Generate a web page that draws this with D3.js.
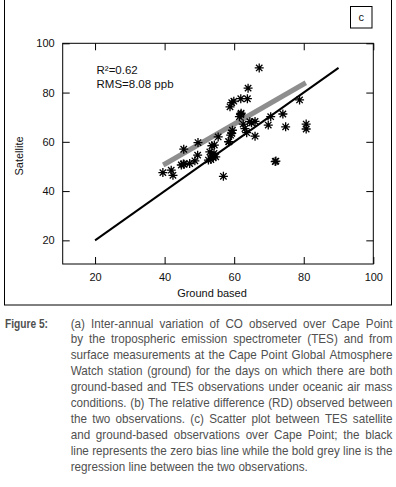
<!DOCTYPE html>
<html><head><meta charset="utf-8">
<script src="https://cdn.jsdelivr.net/npm/d3@7"></script>
<style>
html,body{margin:0;padding:0;background:#fff;}
svg{display:block;}
</style></head>
<body>
<svg id="c" width="396" height="487"></svg>
<script>
// ---- data ----
const groundBased = [39.5, 41.9, 42.4, 44.8, 45.4, 45.6, 45.5, 47.2, 48.7, 49.5, 49.6, 52.6, 53.0, 53.3, 53.5, 53.6, 54.0, 54.2, 54.3, 54.7, 55.4, 56.9, 58.4, 58.5, 59.0, 59.3, 59.5, 58.8, 59.3, 59.9, 61.9, 62.0, 61.5, 61.9, 63.8, 64.0, 67.2, 62.6, 63.1, 63.6, 65.0, 66.0, 66.0, 69.8, 70.5, 74.0, 74.8, 71.8, 72.0, 78.8, 80.7, 80.7, 64.5];
const satellite   = [47.5, 48.5, 46.4, 50.6, 51.0, 50.9, 57.0, 51.2, 52.3, 54.6, 59.7, 52.6, 55.9, 52.8, 54.6, 58.4, 53.7, 55.3, 58.7, 53.9, 62.0, 46.0, 60.1, 60.0, 62.7, 63.4, 64.7, 74.2, 75.9, 76.5, 77.5, 71.6, 70.2, 71.1, 77.5, 81.8, 90.0, 67.2, 65.4, 63.7, 67.7, 68.3, 62.3, 66.8, 70.2, 71.3, 66.1, 52.0, 52.2, 77.0, 67.2, 65.2, 68.2];
const zeroBiasLine = [[20, 20], [90, 90]];
const regressionLine = [[39.6, 50.6], [80.6, 84.0]];
const xTicks = [20, 40, 60, 80, 100];
const yTicks = [20, 40, 60, 80, 100];
const statsLabels = ["R\u00B2=0.62", "RMS=8.08 ppb"];
const panelLabel = "c";
const xTitle = "Ground based";
const yTitle = "Satellite";
const figureLabel = "Figure 5:";
const captionLines = [
  "(a) Inter-annual variation of CO observed over Cape Point",
  "by the tropospheric emission spectrometer (TES) and from",
  "surface measurements at the Cape Point Global Atmosphere",
  "Watch station (ground) for the days on which there are both",
  "ground-based and TES observations under oceanic air mass",
  "conditions. (b) The relative difference (RD) observed between",
  "the two observations. (c) Scatter plot between TES satellite",
  "and ground-based observations over Cape Point; the black",
  "line represents the zero bias line while the bold grey line is the",
  "regression line between the two observations."
];

// ---- layout ----
const svg = d3.select("#c");
const L = 62.7, R = 373.3, T = 43.3, B = 264;
const x = d3.scaleLinear().domain([10.7, 100]).range([L, R]);
const y = d3.scaleLinear().domain([10.4, 100]).range([B, T]);
const font = "'Liberation Sans', Arial, sans-serif";

// outer box
svg.append("rect").attr("x", 4.5).attr("y", -2).attr("width", 387).attr("height", 307)
  .attr("fill", "none").attr("stroke", "#000").attr("stroke-width", 1);
// panel label box
svg.append("rect").attr("x", 350.5).attr("y", 6.5).attr("width", 21.5).attr("height", 21.5)
  .attr("fill", "none").attr("stroke", "#000").attr("stroke-width", 1);
svg.append("text").attr("x", 361.3).attr("y", 21).attr("text-anchor", "middle")
  .attr("font-family", font).attr("font-size", 11).attr("fill", "#111").text(panelLabel);

// axes
const gx = svg.append("g").attr("transform", `translate(0,${B})`)
  .call(d3.axisBottom(x).tickValues(xTicks).tickSize(-7).tickPadding(9).tickSizeOuter(0));
const gy = svg.append("g").attr("transform", `translate(${L},0)`)
  .call(d3.axisLeft(y).tickValues(yTicks).tickSize(-7).tickPadding(8).tickSizeOuter(0));
const gt = svg.append("g").attr("transform", `translate(0,${T})`)
  .call(d3.axisTop(x).tickValues(xTicks).tickSize(-7).tickFormat("").tickSizeOuter(0));
const gr = svg.append("g").attr("transform", `translate(${R},0)`)
  .call(d3.axisRight(y).tickValues(yTicks).tickSize(-7).tickFormat("").tickSizeOuter(0));
[gx, gy, gt, gr].forEach(g => {
  g.select(".domain").remove();
  g.selectAll("text").attr("font-family", font).attr("font-size", 11).attr("fill", "#111");
  g.selectAll("line").attr("stroke", "#000");
});
svg.append("rect").attr("x", L).attr("y", T).attr("width", R - L).attr("height", B - T)
  .attr("fill", "none").attr("stroke", "#000").attr("stroke-width", 1);

// axis titles
svg.append("text").attr("x", 212).attr("y", 297).attr("text-anchor", "middle")
  .attr("font-family", font).attr("font-size", 11).attr("fill", "#111").text(xTitle);
svg.append("text").attr("transform", "translate(23,156) rotate(-90)").attr("text-anchor", "middle")
  .attr("font-family", font).attr("font-size", 11).attr("fill", "#111").text(yTitle);

// stats text
statsLabels.forEach((s, i) => {
  svg.append("text").attr("x", 96.5).attr("y", 74 + i * 13.5)
    .attr("font-family", font).attr("font-size", 11.5).attr("fill", "#111").text(s);
});

// lines
const line = d3.line().x(d => x(d[0])).y(d => y(d[1]));
svg.append("path").attr("d", line(regressionLine)).attr("fill", "none")
  .attr("stroke", "#8e8e8e").attr("stroke-width", 5);
svg.append("path").attr("d", line(zeroBiasLine)).attr("fill", "none")
  .attr("stroke", "#000").attr("stroke-width", 2);

// points (asterisk)
const a = 4.5, b = 3.2;
const star = `M${-a},0H${a}M0,${-a}V${a}M${-b},${-b}L${b},${b}M${-b},${b}L${b},${-b}`;
svg.append("g").selectAll("path").data(groundBased.map((g, i) => [g, satellite[i]]))
  .join("path")
  .attr("transform", d => `translate(${x(d[0])},${y(d[1])})`)
  .attr("d", star).attr("fill", "none").attr("stroke", "#000").attr("stroke-width", 1.3);

// caption
const capColor = "#505050";
const capFont = "'Liberation Sans Narrow', 'Arial Narrow', 'Liberation Sans', Arial, sans-serif";
const capSize = 12.5;
svg.append("text").attr("x", 5).attr("y", 327.5)
  .attr("font-family", capFont).attr("font-size", capSize).attr("font-weight", "bold")
  .attr("textLength", 43).attr("lengthAdjust", "spacingAndGlyphs")
  .attr("fill", capColor).text(figureLabel);

const x0 = 70.7, x1 = 392.5, lineH = 15.9, y0 = 327.5;
// measure
const meas = svg.append("text").attr("font-family", capFont).attr("font-size", capSize).attr("visibility", "hidden");
function w(s) { meas.text(s); return meas.node().getComputedTextLength(); }
const spaceW = w("a a") - w("aa");
let maxNat = 0;
const lineWords = captionLines.map(l => l.split(" "));
lineWords.forEach(ws => {
  const nat = d3.sum(ws, s => w(s)) + (ws.length - 1) * spaceW;
  maxNat = Math.max(maxNat, nat);
});
const k = Math.min(1, (x1 - x0) / maxNat);
const Lw = (x1 - x0) / k;
lineWords.forEach((ws, i) => {
  const g = svg.append("g").attr("transform", `translate(${x0},${y0 + i * lineH}) scale(${k},1)`);
  const widths = ws.map(s => w(s));
  const total = d3.sum(widths);
  const last = i === lineWords.length - 1;
  const gap = last ? spaceW : (Lw - total) / (ws.length - 1);
  let cx = 0;
  ws.forEach((s, j) => {
    g.append("text").attr("x", cx).attr("y", 0)
      .attr("font-family", capFont).attr("font-size", capSize).attr("fill", capColor).text(s);
    cx += widths[j] + gap;
  });
});
meas.remove();
</script>
</body></html>
